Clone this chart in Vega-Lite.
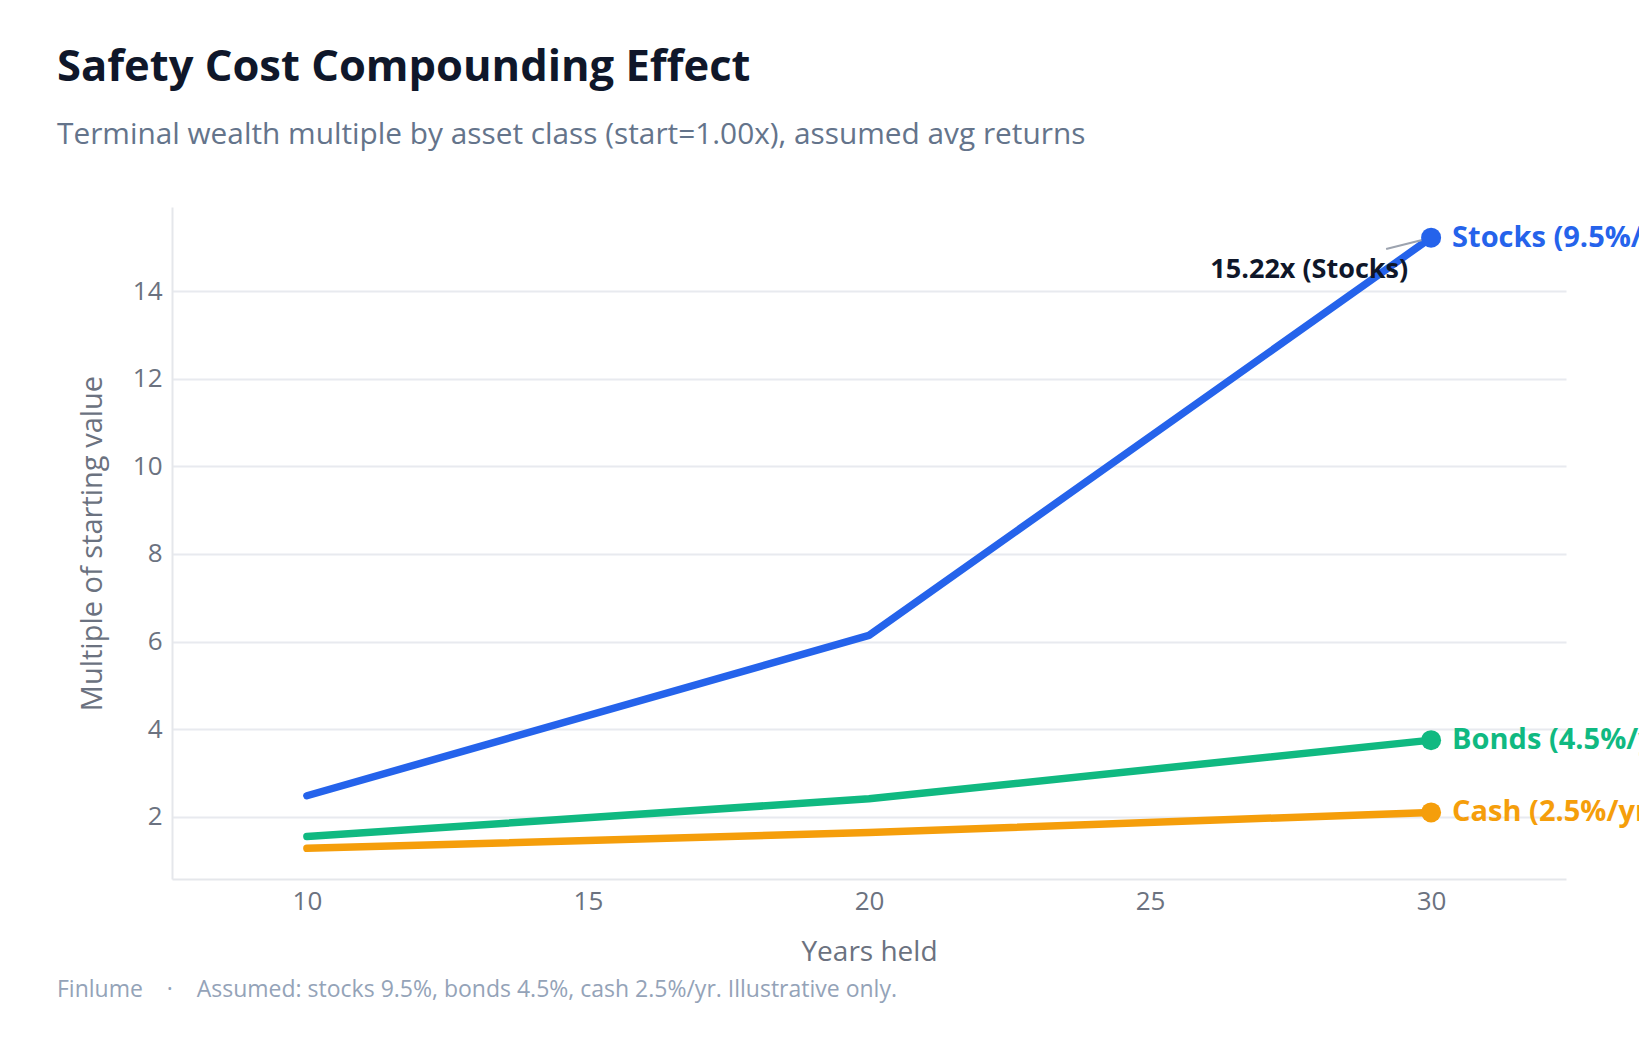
{
  "$schema": "https://vega.github.io/schema/vega-lite/v6.json",
  "width": 1394,
  "height": 672,
  "autosize": {"type": "none"},
  "padding": {"left": 172, "top": 207, "right": 73, "bottom": 161},
  "background": "#ffffff",
  "title": {
    "text": "Safety Cost Compounding Effect",
    "subtitle": "Terminal wealth multiple by asset class (start=1.00x), assumed avg returns",
    "anchor": "start",
    "frame": "group",
    "dx": -115,
    "offset": 56,
    "font": "Open Sans",
    "fontSize": 43.5,
    "fontWeight": "bold",
    "color": "#0f172a",
    "subtitleFont": "Open Sans",
    "subtitleFontSize": 29.8,
    "subtitleColor": "#64748b",
    "subtitlePadding": 30
  },
  "data": {
    "values": [
      {"series": "Stocks", "label": "Stocks (9.5%/yr)", "years": 10, "multiple": 2.48},
      {"series": "Stocks", "label": "Stocks (9.5%/yr)", "years": 20, "multiple": 6.14},
      {"series": "Stocks", "label": "Stocks (9.5%/yr)", "years": 30, "multiple": 15.22},
      {"series": "Bonds", "label": "Bonds (4.5%/yr)", "years": 10, "multiple": 1.55},
      {"series": "Bonds", "label": "Bonds (4.5%/yr)", "years": 20, "multiple": 2.41},
      {"series": "Bonds", "label": "Bonds (4.5%/yr)", "years": 30, "multiple": 3.75},
      {"series": "Cash", "label": "Cash (2.5%/yr)", "years": 10, "multiple": 1.28},
      {"series": "Cash", "label": "Cash (2.5%/yr)", "years": 20, "multiple": 1.64},
      {"series": "Cash", "label": "Cash (2.5%/yr)", "years": 30, "multiple": 2.10}
    ]
  },
  "encoding": {
    "x": {
      "field": "years",
      "type": "quantitative",
      "scale": {"domain": [7.6, 32.4], "nice": false, "zero": false},
      "axis": {
        "title": "Years held",
        "values": [10, 15, 20, 25, 30],
        "grid": false,
        "labelPadding": 9,
        "titlePadding": 24
      }
    },
    "y": {
      "field": "multiple",
      "type": "quantitative",
      "scale": {"domain": [0.58, 15.92], "nice": false, "zero": false},
      "axis": {
        "title": "Multiple of starting value",
        "values": [2, 4, 6, 8, 10, 12, 14],
        "grid": true,
        "labelPadding": 10,
        "titlePadding": 25,
        "titleFontSize": 29
      }
    },
    "color": {
      "field": "series",
      "type": "nominal",
      "scale": {"domain": ["Stocks", "Bonds", "Cash"], "range": ["#2563eb", "#10b981", "#f59e0b"]},
      "legend": null
    }
  },
  "layer": [
    {
      "mark": {"type": "line", "strokeWidth": 7.5, "strokeCap": "round", "strokeJoin": "round"}
    },
    {
      "transform": [{"filter": "datum.series === 'Stocks' && datum.years === 30"}],
      "mark": {"type": "rule", "stroke": "#9ca3af", "strokeWidth": 2},
      "encoding": {
        "x2": {"datum": 29.2},
        "y2": {"datum": 14.96},
        "color": {"value": "#9ca3af"}
      }
    },
    {
      "transform": [{"filter": "datum.years === 30"}],
      "mark": {"type": "point", "filled": true, "opacity": 1, "size": 400}
    },
    {
      "transform": [{"filter": "datum.years === 30"}],
      "mark": {
        "type": "text",
        "align": "left",
        "baseline": "middle",
        "dx": 21,
        "font": "Open Sans",
        "fontSize": 29,
        "fontWeight": "bold"
      },
      "encoding": {"text": {"field": "label"}}
    },
    {
      "transform": [
        {"filter": "datum.series === 'Stocks' && datum.years === 30"},
        {"calculate": "format(datum.multiple, '.2f') + 'x (' + datum.series + ')'", "as": "callout"}
      ],
      "mark": {
        "type": "text",
        "align": "right",
        "baseline": "middle",
        "dx": -23,
        "dy": 32,
        "font": "Open Sans",
        "fontSize": 27,
        "fontWeight": "bold",
        "color": "#0f172a"
      },
      "encoding": {"text": {"field": "callout"}, "color": {"value": "#0f172a"}}
    },
    {
      "transform": [{"filter": "datum.series === 'Stocks' && datum.years === 10"}],
      "mark": {
        "type": "text",
        "text": "Finlume\u00a0\u00a0\u00a0\u00a0·\u00a0\u00a0\u00a0\u00a0Assumed: stocks 9.5%, bonds 4.5%, cash 2.5%/yr. Illustrative only.",
        "align": "left",
        "baseline": "middle",
        "dx": -115,
        "dy": 111,
        "font": "Open Sans",
        "fontSize": 23,
        "color": "#94a3b8"
      },
      "encoding": {
        "x": {"datum": 7.6},
        "y": {"datum": 0.58},
        "color": {"value": "#94a3b8"}
      }
    }
  ],
  "config": {
    "view": {"stroke": null},
    "font": "Open Sans",
    "axis": {
      "domainColor": "#e5e7eb",
      "domainWidth": 2,
      "gridColor": "#e8eaef",
      "gridWidth": 2,
      "ticks": false,
      "labelColor": "#6b7280",
      "titleColor": "#6b7280",
      "labelFont": "Open Sans",
      "titleFont": "Open Sans",
      "labelFontSize": 26,
      "titleFontSize": 28,
      "titleFontWeight": "normal"
    }
  }
}
